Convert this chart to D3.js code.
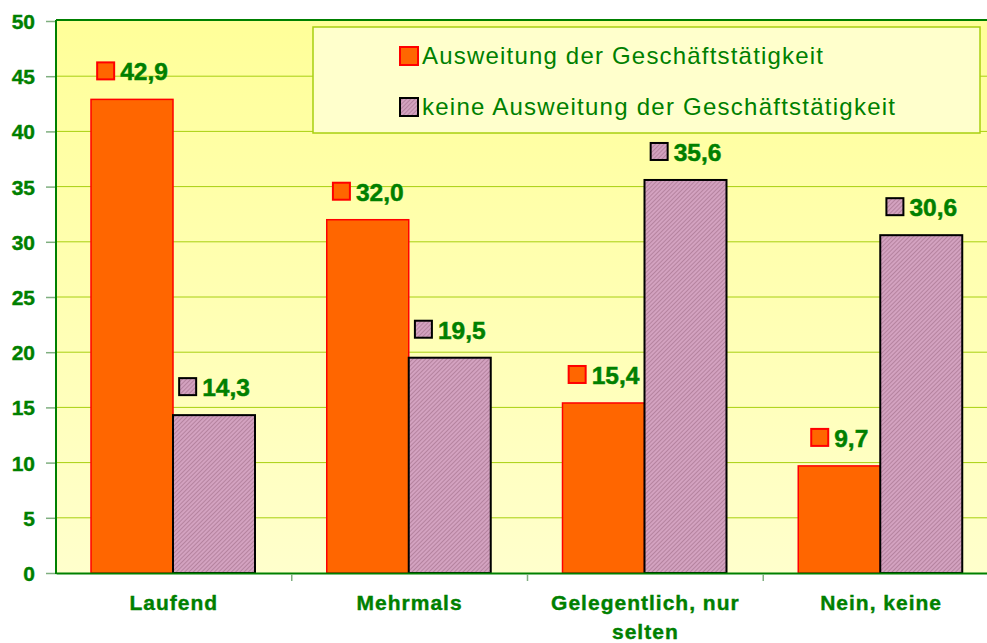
<!DOCTYPE html>
<html>
<head>
<meta charset="utf-8">
<script src="https://cdn.jsdelivr.net/npm/d3@7/dist/d3.min.js"></script>
<style>
  html, body { margin: 0; padding: 0; background: #ffffff; }
  svg { display: block; }
  text { font-family: "Liberation Sans", Arial, sans-serif; }
</style>
</head>
<body>
<svg id="chart" width="987" height="643"></svg>
<script>
const categories = ["Laufend", "Mehrmals", "Gelegentlich, nur selten", "Nein, keine"];
const seriesNames = ["Ausweitung der Geschäftstätigkeit", "keine Ausweitung der Geschäftstätigkeit"];
const seriesA = [42.9, 32.0, 15.4, 9.7];
const seriesB = [14.3, 19.5, 35.6, 30.6];
const yTicks = [0, 5, 10, 15, 20, 25, 30, 35, 40, 45, 50];

(function () {
const fmt = v => v.toFixed(1).replace(".", ",");
const green = "#008000";

const svg = d3.select("#chart");
const pLeft = 56, pRight = 999, pTop = 21, pBottom = 573;

const defs = svg.append("defs");
const grad = defs.append("linearGradient").attr("id", "bg").attr("x1", 0).attr("y1", 0).attr("x2", 0).attr("y2", 1);
grad.append("stop").attr("offset", "0%").attr("stop-color", "#FFFF99");
grad.append("stop").attr("offset", "100%").attr("stop-color", "#FFFFCC");
const pat = defs.append("pattern").attr("id", "hatch").attr("patternUnits", "userSpaceOnUse")
  .attr("width", 3).attr("height", 3).attr("patternTransform", "rotate(45)");
pat.append("rect").attr("width", 3).attr("height", 3).attr("fill", "#D3A2C0");
pat.append("rect").attr("width", 1).attr("height", 3).attr("fill", "#B5839F");

const x0 = d3.scaleBand().domain(categories).range([pLeft, pRight]).paddingInner(0).paddingOuter(0);
const x1 = d3.scaleBand().domain([0, 1]).range([35, 199]);
const y = d3.scaleLinear().domain([0, 50]).range([pBottom, pTop]);

// plot background
svg.append("rect").attr("x", pLeft).attr("y", pTop - 1).attr("width", pRight - pLeft).attr("height", pBottom - pTop + 1)
  .attr("fill", "url(#bg)");

// gridlines
svg.append("g").selectAll("line").data(yTicks.filter(t => t > 0 && t < 50)).join("line")
  .attr("x1", pLeft).attr("x2", pRight).attr("y1", d => y(d)).attr("y2", d => y(d))
  .attr("stroke", "#A8D010").attr("stroke-width", 1);

// y axis
const yAxis = d3.axisLeft(y).tickValues(yTicks).tickSize(10).tickPadding(11).tickFormat(d3.format("d"));
const gy = svg.append("g").attr("transform", `translate(${pLeft},0)`).call(yAxis);
gy.select(".domain").remove();
gy.selectAll(".tick line").attr("stroke", "#7FAF7F").attr("stroke-width", 1.5);
gy.selectAll(".tick text").attr("fill", green).attr("font-size", "21px").attr("font-weight", "bold")
  .attr("stroke", green).attr("stroke-width", 0.4)
  .attr("font-family", "'Liberation Sans', Arial, sans-serif").attr("dy", "0.36em");

// legend box
const lg = svg.append("g");
lg.append("rect").attr("x", 313).attr("y", 27).attr("width", 667).attr("height", 106)
  .attr("fill", "#FFFFCC").attr("stroke", "#A8D010").attr("stroke-width", 1.5);
const legFill = ["#FF6600", "url(#hatch)"];
const legStroke = ["#FF0000", "#000000"];
const legWidths = [401, 473];
seriesNames.forEach((name, i) => {
  const yy = 47 + i * 51;
  lg.append("rect").attr("x", 400).attr("y", yy).attr("width", 18).attr("height", 18)
    .attr("fill", legFill[i]).attr("stroke", legStroke[i]).attr("stroke-width", 2);
  lg.append("text").attr("x", 422).attr("y", yy + 16.5).attr("fill", green).attr("font-size", "24px")
    .attr("textLength", legWidths[i]).attr("lengthAdjust", "spacing").text(name);
});

// bars
const data = categories.map((c, i) => ({ cat: c, vals: [seriesA[i], seriesB[i]] }));
const groups = svg.append("g").selectAll("g").data(data).join("g")
  .attr("transform", d => `translate(${x0(d.cat)},0)`);
groups.selectAll("rect").data(d => d.vals.map((v, k) => ({ v, k }))).join("rect")
  .attr("x", d => x1(d.k)).attr("width", x1.bandwidth())
  .attr("y", d => y(d.v)).attr("height", d => y(0) - y(d.v))
  .attr("fill", d => legFill[d.k]).attr("stroke", d => legStroke[d.k])
  .attr("stroke-width", d => d.k === 0 ? 1.5 : 2);

// value labels
groups.each(function (d) {
  const g = d3.select(this);
  d.vals.forEach((v, k) => {
    const cx = x1(k) + x1.bandwidth() / 2;
    const cy = y(v) - 28;
    const t = g.append("text").attr("y", cy).attr("dy", "0.36em").attr("fill", green)
      .attr("stroke", green).attr("stroke-width", 0.5)
      .attr("font-size", "24.5px").attr("font-weight", "bold").text(fmt(v));
    const tw = t.node().getComputedTextLength();
    const total = 19 + 5 + tw;
    const sx = cx - total / 2;
    g.append("rect").attr("x", sx + 1).attr("y", cy - 9).attr("width", 17).attr("height", 17)
      .attr("fill", legFill[k]).attr("stroke", legStroke[k]).attr("stroke-width", 2);
    t.attr("x", sx + 24);
  });
});

// plot border lines (left, top)
svg.append("line").attr("x1", pLeft).attr("x2", pLeft).attr("y1", pTop - 1).attr("y2", pBottom + 1)
  .attr("stroke", green).attr("stroke-width", 2);
svg.append("line").attr("x1", pLeft).attr("x2", pRight).attr("y1", pTop - 1).attr("y2", pTop - 1)
  .attr("stroke", green).attr("stroke-width", 2);

// x axis
const xAxis = d3.axisBottom(x0).tickSize(0).tickPadding(0);
const gx = svg.append("g").attr("transform", `translate(0,${pBottom})`).call(xAxis);
gx.select(".domain").attr("stroke", green).attr("stroke-width", 2);
gx.selectAll(".tick text").remove();
// category separators
svg.append("g").selectAll("line").data(categories.slice(1)).join("line")
  .attr("x1", d => x0(d)).attr("x2", d => x0(d)).attr("y1", pBottom + 1).attr("y2", pBottom + 8)
  .attr("stroke", "#7FAF7F").attr("stroke-width", 1.5);

// category labels with wrap
const labG = svg.append("g");
categories.forEach(c => {
  const cx = x0(c) + x0.bandwidth() / 2;
  const t = labG.append("text").attr("x", cx).attr("y", 610).attr("text-anchor", "middle")
    .attr("fill", green).attr("stroke", green).attr("stroke-width", 0.4)
    .attr("font-size", "21px").attr("font-weight", "bold").attr("letter-spacing", "1px");
  const words = c.split(" ");
  let line = [];
  let ts = t.append("tspan").attr("x", cx).attr("dy", 0);
  words.forEach(w => {
    line.push(w);
    ts.text(line.join(" "));
    if (ts.node().getComputedTextLength() > 215 && line.length > 1) {
      line.pop();
      ts.text(line.join(" "));
      line = [w];
      ts = t.append("tspan").attr("x", cx).attr("dy", "29px").text(w);
    }
  });
});
})();
</script>
</body>
</html>
